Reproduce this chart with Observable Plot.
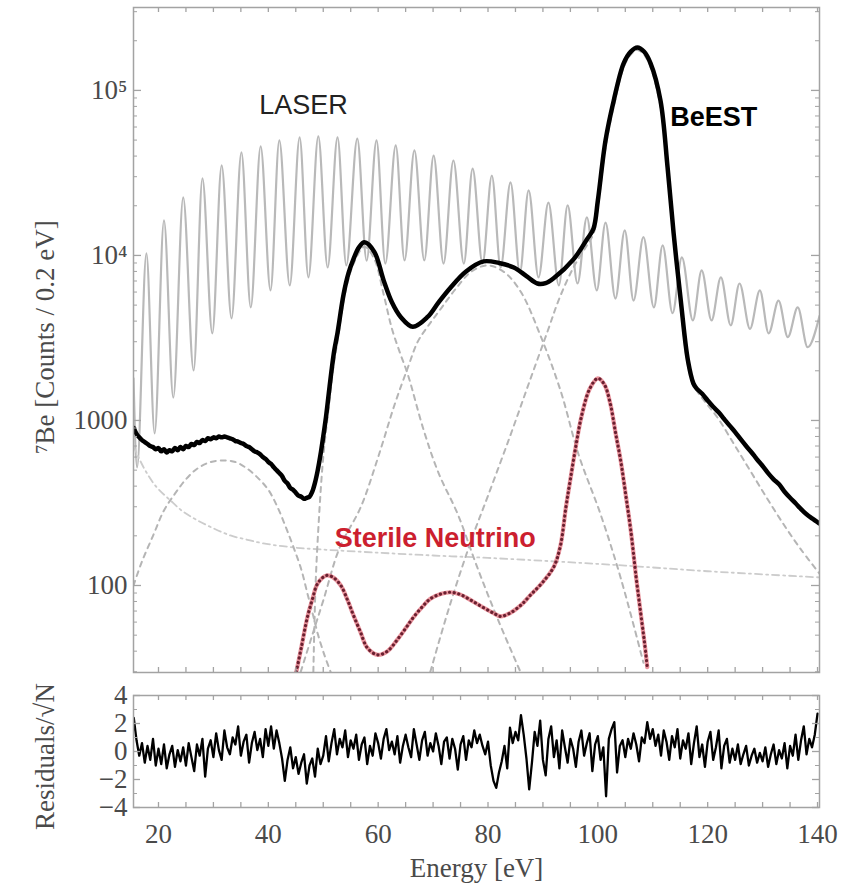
<!DOCTYPE html>
<html><head><meta charset="utf-8">
<script src="https://cdn.jsdelivr.net/npm/d3@7"></script>
<script src="https://cdn.jsdelivr.net/npm/@observablehq/plot@0.6"></script>
<style>
body{margin:0;background:#fff}
#chart{position:relative;width:851px;height:886px;background:#fff}
#chart svg{position:absolute;left:0}
</style>
</head><body><div id="chart"></div>
<script>
// ---------- DATA ----------
const beestE = [15.5,16,16.5,17,17.5,18,18.5,19,19.5,20,20.5,21,21.5,22,22.5,23,23.5,24,24.5,25,25.5,26,26.5,27,27.5,28,28.5,29,29.5,30,30.5,31,31.5,32,32.5,33,33.5,34,34.5,35,35.5,36,36.5,37,37.5,38,38.5,39,39.5,40,40.5,41,41.5,42,42.5,43,43.5,44,44.5,45,45.5,46,46.5,47,47.5,48,48.5,49,49.5,50,50.5,51,51.5,52,52.6,53.7,54.6,55.5,56.5,57.5,59.3,61,62.5,64.1,66.3,69,71,73.2,76,79.2,82,84.7,87,89,90.5,92,95.6,98,99.2,100,101.4,102.9,104.7,106,107.2,108.4,109.6,111.4,112.7,113.8,115.1,116.4,117.4,118,119,120,121,122,123,124,125,126,127,128,128.5,129,130,131,132,133,134,135,136,137,138,139,140.3];
const beestV = [900,830,790,760,740,720,700,690,670,680,650,670,640,660,650,680,660,690,670,700,690,720,710,740,730,760,750,780,770,790,780,800,790,800,790,780,770,750,745,730,720,700,690,670,650,640,625,600,585,560,545,520,500,480,460,430,415,390,380,365,350,345,335,340,345,370,420,500,620,800,1050,1450,2000,2650,3400,5800,7800,9500,11200,12000,10500,7050,5200,4240,3700,4240,5200,6400,8000,9200,9000,8450,7500,6760,6800,7300,9500,12500,14500,21500,49800,87000,146000,172000,182000,172000,146000,87000,34100,13600,5330,2310,1675,1560,1450,1320,1210,1120,1020,930,850,770,700,640,610,580,530,480,440,410,370,340,315,290,270,255,238];

const laserE = [15.45,16.1,17.8,19.3,21.0,22.7,24.5,26.4,28.0,29.8,31.5,33.3,35.1,36.8,38.6,40.4,42.0,43.9,45.7,47.3,49.1,50.8,52.6,54.2,56.2,57.9,59.7,61.3,63.2,64.8,66.6,68.4,70.1,71.9,73.7,75.6,77.2,79.0,80.7,82.3,84.1,85.8,87.4,89.2,91.0,92.9,94.5,96.3,98.0,99.8,101.4,103.2,104.9,106.5,108.3,110.2,111.8,113.6,115.3,117.3,118.9,120.7,122.4,124.2,125.8,127.7,129.5,131.1,132.9,134.6,136.4,138.2,140.36];
const laserV = [1800,520,10300,834,16300,1377,22500,2010,29300,3370,35100,4150,42100,4840,45800,6140,49800,6580,51900,7360,52600,8450,51900,8700,51100,9300,49800,8930,46400,9330,43300,9330,40300,8930,37600,8930,33600,8930,30500,8450,27700,7900,24800,7360,20900,6580,20100,6760,17000,6140,15800,5480,14200,5330,12900,4840,11500,4470,9730,4040,8110,4040,7360,3770,6760,3590,6140,3370,5330,3200,4840,2780,4300];

const sterileE = [45.1,46,47.1,48,49,50.6,51.8,53.2,54.4,55.5,56.8,58,59.9,61.7,63.5,65,66.4,68,69.5,71.5,73.2,75,77,79,81,82.3,84,86,87.8,90,92,93.2,94.2,95,96,97,98.5,100,101.2,102.3,103.2,104.2,105.1,106,107,107.8,108.5,109];
const sterileV = [30,42,64,82,103,115,112,100,82,66,52,42,38,40,47,55,64,74,83,89,91,88,81,74,68,65,68,76,88,105,130,175,300,440,700,1050,1550,1800,1650,1250,850,560,350,215,110,68,45,32];

const compLowE = [15.45,17,19,21,23,25,27.1,29.5,31.8,34,36,38,40,41.7,43.2,44.6,46,47.1,48.2,49,50.2,51.5];
const compLowV = [100,140,200,285,360,440,512,560,573,560,515,452,380,297,225,170,125,90,65,51,38,29];

const backgroundE = [15.45,17.3,19.5,22.2,24.5,27.1,30,33.1,36,39.1,44.6,50,60,70,80,92,105,120,140.36];
const backgroundV = [700,519,400,327,280,248,222,201,190,180,170,165,158,152,147,140,132,122,112];

const comp58E = [48.2,48.6,49.2,50,51,52,52.6,53.7,54.6,55.5,57.5,59.3,61,62.5,64.1,65.4,68.3,71,74.5,78,82,85.9];
const comp58V = [30,100,250,600,1200,2300,3000,5300,7200,8900,11300,9500,5800,3600,2500,1900,871,480,270,130,60,30];

const comp80E = [45.9,48,50,53,56.8,60,63,65.4,67.2,69,71.5,74,77,80,83,86,89.5,93.2,96.5,100.5,104.2,108.3];
const comp80V = [30,50,81,170,297,600,1250,2090,3000,3700,4800,6200,8000,8700,7900,6000,3300,1520,620,270,110,34];

const compKE = [69.5,73,77,80,84,87.5,90.9,93,95.6,98,99.2,100,101.4,102.9,104.7,106,107.2,108.4,109.6,111.4,112.7,113.8,115.1,116.4,117.6,119.5,121.8,125,128,131,134,137,140.36];
const compKV = [30,75,190,350,800,1700,3510,5500,8500,11500,13500,19500,45000,80000,138000,165000,176000,165000,138000,80000,31000,12500,4900,2150,1600,1300,1040,700,480,330,230,165,118];

// residuals, 0.5 eV bins from 15 eV to 140 eV
const residStart = 15, residStep = 0.5;
const residuals = [
-0.5,2.4,0.8,-0.3,0.6,-0.8,0.4,-0.6,0.9,-1.0,
0.2,-0.9,0.5,-1.2,-0.2,0.4,-1.1,0.1,-0.7,0.3,
-1.0,0.6,-0.4,-1.4,0.5,-0.3,0.9,-1.8,0.2,0.8,
-0.4,1.3,0.1,-0.6,1.5,0.3,-0.2,1.0,0.5,1.8,
-0.3,0.7,1.2,-0.8,0.6,1.4,0.1,0.9,-0.4,1.6,
0.4,1.8,0.2,1.5,0.6,-0.5,-2.1,-0.6,0.3,-1.2,
-0.4,-1.6,-0.8,-0.2,-2.3,-1.0,-0.5,-1.8,0.2,-0.9,
-0.3,1.1,-0.7,0.6,1.6,-0.2,0.9,0.3,1.5,-0.4,
0.8,0.2,1.2,-0.6,0.5,1.0,-0.9,0.4,-0.3,1.3,
0.6,-0.5,0.9,1.6,0.1,0.7,-0.2,1.1,-0.8,0.4,
1.2,0.3,-0.4,1.6,0.5,-0.6,0.8,1.4,-0.3,0.6,
0.0,1.3,0.4,-0.9,0.7,1.0,-0.5,0.9,0.2,-1.3,
0.5,1.1,-0.6,0.8,0.3,1.5,0.6,1.2,0.4,-0.2,
0.7,-1.0,-2.1,-2.6,-1.5,-0.7,0.4,-1.2,1.7,0.6,
1.4,0.8,2.6,1.2,-0.5,-2.7,-0.8,1.4,0.4,2.2,
-0.6,-1.7,0.9,1.8,-0.4,0.8,-1.2,1.5,0.3,-0.8,
0.9,0.2,-1.1,0.7,1.5,-0.3,0.6,1.3,-1.4,0.5,
1.1,-0.6,0.3,-3.2,0.9,1.6,2.1,-1.5,0.4,0.8,
-0.4,0.9,0.2,1.3,0.5,-0.7,1.0,0.6,2.1,0.9,
1.6,0.4,1.2,-0.3,1.5,0.7,-0.6,1.1,0.3,1.6,
-0.5,0.8,0.2,1.3,-0.9,0.6,1.8,-0.4,0.5,-1.1,
0.7,1.4,-0.6,0.3,1.5,-1.2,0.4,0.9,-0.8,0.2,
-0.6,0.5,-0.9,-0.2,0.4,-1.0,-0.3,0.2,-0.8,-0.1,
-0.7,0.3,-1.1,-0.2,0.5,-0.9,0.1,-0.5,0.6,-1.2,
0.4,-0.3,1.2,-0.6,0.8,1.8,-0.2,0.9,0.3,1.2,
2.7];

const xTickLabels = [20,40,60,80,100,120,140];
const yMajorTicks = [100,1000,10000,100000];
const residTicks = [-4,-2,0,2,4];
const labelLaser = "LASER", labelBeEST = "BeEST", labelSterile = "Sterile Neutrino";
const yLabelMain = "⁷Be [Counts / 0.2 eV]";
const yLabelResid = "Residuals/√N";
const xLabel = "Energy [eV]";

// ---------- BUILD ----------
const zipXY = (xs, ys) => xs.map((x, i) => ({x, y: ys[i]}));
const beest = zipXY(beestE, beestV);
const laser = zipXY(laserE, laserV);
const sterile = zipXY(sterileE, sterileV);
const comps = [zipXY(compLowE, compLowV), zipXY(comp58E, comp58V), zipXY(comp80E, comp80V), zipXY(compKE, compKV)];
const background = zipXY(backgroundE, backgroundV);
const resid = residuals.map((r, i) => ({x: residStart + i * residStep, y: r}));

const X_DOMAIN = [15.45, 140.36];
const W = 851, ML = 133, MR = 32;
const PW = W - ML - MR;
const frameColor = "#a3a3a3";
const textColor = "#4a4a4a";
const serif = "'Liberation Serif', 'Times New Roman', serif";
const sans = "'Liberation Sans', Arial, sans-serif";
const xMinor = d3.range(15, 141, 5).filter(v => v >= X_DOMAIN[0] && v <= X_DOMAIN[1]);
const yMinor = [];
for (let e = 1; e <= 5; e++) for (let m = 2; m <= 9; m++) { const v = m * 10 ** e; if (v > 29.7 && v < 318000) yMinor.push(v); }
const sup = {4: "⁴", 5: "⁵"};

const MH = 680, MT = 7, MB = 8, PH = MH - MT - MB;
const main = Plot.plot({
  width: W, height: MH, marginLeft: ML, marginRight: MR, marginTop: MT, marginBottom: MB,
  x: {domain: X_DOMAIN, axis: null},
  y: {type: "log", domain: [29.7, 318000], axis: null},
  style: {fontFamily: serif, fontSize: "27px", color: textColor, background: "transparent", overflow: "visible"},
  marks: [
    Plot.line(laser, {x: "x", y: "y", stroke: "#b9b9b9", strokeWidth: 2.2, curve: "monotone-x", clip: true}),
    Plot.line(background, {x: "x", y: "y", stroke: "#cccccc", strokeWidth: 1.8, strokeDasharray: "7 4 2 4", curve: "catmull-rom", clip: true}),
    ...comps.map(c => Plot.line(c, {x: "x", y: "y", stroke: "#b5b5b5", strokeWidth: 2, strokeDasharray: "5 5", curve: "catmull-rom", clip: true})),
    Plot.line(sterile, {x: "x", y: "y", stroke: "#e2707c", strokeWidth: 4.2, strokeOpacity: 0.75, curve: "catmull-rom", clip: true}),
    Plot.line(sterile, {x: "x", y: "y", stroke: "#6a2030", strokeWidth: 3.2, strokeDasharray: "0.1 4.6", strokeLinecap: "round", curve: "catmull-rom", clip: true}),
    Plot.line(beest, {x: "x", y: "y", stroke: "#000", strokeWidth: 4.5, strokeLinejoin: "round", curve: "catmull-rom", clip: true}),
    Plot.frame({stroke: frameColor, strokeWidth: 1.5}),
    // inward ticks
    Plot.tickY(yMajorTicks, {y: d => d, insetRight: PW - 8, stroke: frameColor, strokeWidth: 1.3}),
    Plot.tickY(yMajorTicks, {y: d => d, insetLeft: PW - 8, stroke: frameColor, strokeWidth: 1.3}),
    Plot.tickY(yMinor, {y: d => d, insetRight: PW - 4, stroke: frameColor}),
    Plot.tickY(yMinor, {y: d => d, insetLeft: PW - 4, stroke: frameColor}),
    Plot.tickX(xMinor, {x: d => d, insetTop: PH - 5, stroke: frameColor, strokeWidth: 1.3}),
    Plot.tickX(xMinor, {x: d => d, insetBottom: PH - 5, stroke: frameColor, strokeWidth: 1.3}),
    Plot.axisY(yMajorTicks, {anchor: "left", tickSize: 0, tickPadding: 6, label: null, fontSize: 27,
      tickFormat: d => d >= 10000 ? "10" + sup[Math.round(Math.log10(d))] : String(d)}),
    Plot.text([yLabelMain], {text: d => d, frameAnchor: "left", textAnchor: "middle", lineAnchor: "middle", dx: -88, dy: -3, rotate: -90, fontSize: 27, fill: textColor}),
    Plot.text([labelLaser], {text: d => d, x: () => 46.4, y: () => 81000, fontFamily: sans, fontSize: 27, fill: "#222"}),
    Plot.text([labelBeEST], {text: d => d, x: () => 121.1, y: () => 68600, fontFamily: sans, fontWeight: "bold", fontSize: 27, fill: "#000"}),
    Plot.text([labelSterile], {text: d => d, x: () => 70.4, y: () => 193, fontFamily: sans, fontWeight: "bold", fontSize: 27, fill: "#cc1f2f"})
  ]
});
main.style.top = "0px";

const RH = 206, RT = 15, RB = 79, RPH = RH - RT - RB;
const residPlot = Plot.plot({
  width: W, height: RH, marginLeft: ML, marginRight: MR, marginTop: RT, marginBottom: RB,
  x: {domain: X_DOMAIN, axis: null},
  y: {domain: [-4, 4], axis: null},
  style: {fontFamily: serif, fontSize: "27px", color: textColor, background: "transparent", overflow: "visible"},
  marks: [
    Plot.line(resid, {x: "x", y: "y", stroke: "#000", strokeWidth: 2.3, strokeLinejoin: "round", clip: true}),
    Plot.frame({stroke: frameColor, strokeWidth: 1.5}),
    Plot.tickY(residTicks, {y: d => d, insetRight: PW - 7, stroke: frameColor, strokeWidth: 1.3}),
    Plot.tickY(residTicks, {y: d => d, insetLeft: PW - 7, stroke: frameColor, strokeWidth: 1.3}),
    Plot.tickY([-3,-1,1,3], {y: d => d, insetRight: PW - 4, stroke: frameColor}),
    Plot.tickY([-3,-1,1,3], {y: d => d, insetLeft: PW - 4, stroke: frameColor}),
    Plot.tickX(xMinor, {x: d => d, insetTop: RPH - 5, stroke: frameColor, strokeWidth: 1.3}),
    Plot.tickX(xMinor, {x: d => d, insetBottom: RPH - 5, stroke: frameColor, strokeWidth: 1.3}),
    Plot.axisY(residTicks, {anchor: "left", tickSize: 0, tickPadding: 6, label: null, fontSize: 27}),
    Plot.axisX(xTickLabels, {anchor: "bottom", tickSize: 0, tickPadding: 16, label: null, fontSize: 27}),
    Plot.text([yLabelResid], {text: d => d, frameAnchor: "left", textAnchor: "middle", lineAnchor: "middle", dx: -88, dy: 5, rotate: -90, fontSize: 27, fill: textColor}),
    Plot.text([xLabel], {text: d => d, frameAnchor: "bottom", lineAnchor: "middle", dy: 61, fontSize: 27, fill: textColor})
  ]
});
residPlot.style.top = "680px";

const chart = document.getElementById("chart");
chart.appendChild(main);
chart.appendChild(residPlot);
</script>
</body></html>
